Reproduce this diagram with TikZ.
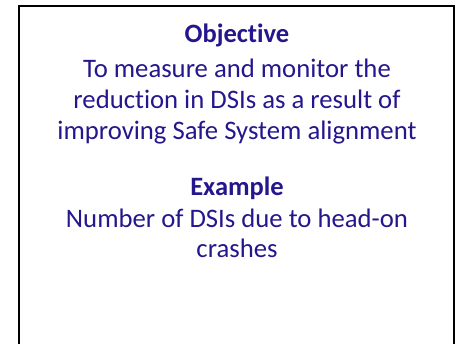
\documentclass[tikz,border=0pt]{standalone}
\usepackage{fontspec}
\setmainfont{Carlito}[Ligatures={NoCommon}]
\definecolor{txtblue}{RGB}{36,22,140}
\tikzset{
  frame/.style={draw=black, line width=1.3pt},
  head/.style={anchor=base, text=txtblue, inner sep=0pt, font=\fontsize{26.5}{30.5}\selectfont\bfseries},
  body/.style={anchor=base, text=txtblue, inner sep=0pt, align=center, font=\fontsize{26.7}{31}\selectfont}
}
\begin{document}
\begin{tikzpicture}[x=1pt,y=-1pt]
\useasboundingbox (0,0) rectangle (463,344);
\coordinate (bl) at (19,345);
\coordinate (tl) at (19,6);
\coordinate (tr) at (454,6);
\coordinate (br) at (454,345);
\draw[frame] (bl) -- (tl) -- (tr) -- (br);
\node[head] (obj) at (237,43) {Objective};
\node[body] (objtxt) at (237,78) {To measure and monitor the};
\node[body] (objtxt2) at (237,109) {reduction in DSIs as a result of};
\node[body] (objtxt3) at (237,140) {improving Safe System alignment};
\node[head] (ex) at (237,196) {Example};
\node[body] (extxt) at (237,228) {Number of DSIs due to head-on};
\node[body] (extxt2) at (237,258) {crashes};
\end{tikzpicture}
\end{document}
